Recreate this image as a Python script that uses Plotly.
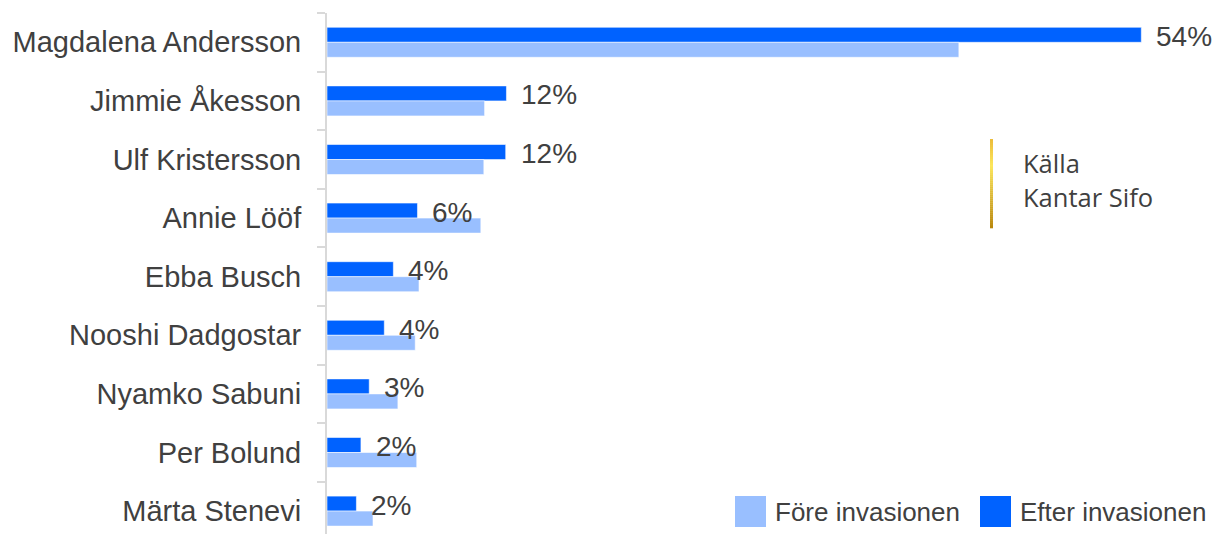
import plotly.graph_objects as go

# Förtroende för partiledarna, före och efter invasionen (procent)
names = [
    "Magdalena Andersson",
    "Jimmie Åkesson",
    "Ulf Kristersson",
    "Annie Lööf",
    "Ebba Busch",
    "Nooshi Dadgostar",
    "Nyamko Sabuni",
    "Per Bolund",
    "Märta Stenevi",
]
efter = [54.0, 11.9, 11.85, 6.0, 4.4, 3.8, 2.8, 2.25, 1.95]
fore = [41.9, 10.45, 10.4, 10.2, 6.1, 5.85, 4.7, 5.95, 3.05]

series_names = ["Före invasionen", "Efter invasionen"]
source_lines = ["Källa", "Kantar Sifo"]

DARK = "#0062FF"
LIGHT = "#99BFFF"
TEXT = "#404040"
SANS = "Liberation Sans, Arial, sans-serif"

W, H = 1225, 534
ML, MR, MT, MB = 327, 0, 13, 0
PW, PH = W - ML - MR, H - MT - MB


def px_x(px):
    return (px - ML) / PW


def px_y(py):
    return (H - MB - py) / PH


fig = go.Figure()
fig.add_trace(go.Bar(
    name=series_names[1], y=names, x=efter, orientation="h",
    marker=dict(color=DARK, line=dict(color="rgba(255,255,255,0.55)", width=1)),
    showlegend=False, hoverinfo="x+y",
))
fig.add_trace(go.Bar(
    name=series_names[0], y=names, x=fore, orientation="h",
    marker=dict(color=LIGHT, line=dict(color="rgba(255,255,255,0.55)", width=1)),
    showlegend=False, hoverinfo="x+y",
))

annotations = []
# value labels next to the "efter" bars
for n, v in zip(names, efter):
    annotations.append(dict(
        x=v, y=n, xref="x", yref="y", text=f"{v:.0f}%", showarrow=False,
        xanchor="left", yanchor="middle", xshift=13, yshift=6,
        font=dict(family=SANS, size=28, color=TEXT),
    ))

shapes = []
# legend drawn by hand: large squares with labels
legend_items = [(735, LIGHT, series_names[0]), (980, DARK, series_names[1])]
for x0, col, label in legend_items:
    shapes.append(dict(
        type="rect", xref="paper", yref="paper",
        x0=px_x(x0), x1=px_x(x0 + 31), y0=px_y(527), y1=px_y(496),
        fillcolor=col, line=dict(width=0),
    ))
    annotations.append(dict(
        x=px_x(x0 + 38), y=px_y(511.5), xref="paper", yref="paper",
        text=label, showarrow=False, xanchor="left", yanchor="middle",
        font=dict(family=SANS, size=26, color=TEXT),
    ))

# source note with a golden gradient bar
stops = [(0.0, (0xEB, 0xBB, 0x3A)), (0.3, (0xFC, 0xE6, 0x5C)), (1.0, (0xB8, 0x86, 0x0B))]


def gold(t):
    for (t0, c0), (t1, c1) in zip(stops[:-1], stops[1:]):
        if t0 <= t <= t1:
            f = (t - t0) / (t1 - t0)
            return "rgb({},{},{})".format(*[round(a + (b - a) * f) for a, b in zip(c0, c1)])
    return "rgb({},{},{})".format(*stops[-1][1])


y_top, y_bot, n_seg = 139, 228, 45
step = (y_bot - y_top) / n_seg
for i in range(n_seg):
    shapes.append(dict(
        type="rect", xref="paper", yref="paper",
        x0=px_x(990), x1=px_x(993),
        y0=px_y(y_top + (i + 1) * step + 0.3), y1=px_y(y_top + i * step),
        fillcolor=gold((i + 0.5) / n_seg), line=dict(width=0),
    ))

for line, yc in zip(source_lines, [163, 197]):
    annotations.append(dict(
        x=px_x(1021), y=px_y(yc), xref="paper", yref="paper",
        text=line, showarrow=False, xanchor="left", yanchor="middle",
        font=dict(family="Open Sans, Noto Sans, sans-serif", size=25.5, color=TEXT),
    ))

fig.update_layout(
    width=W, height=H,
    margin=dict(l=ML, r=MR, t=MT, b=MB, pad=0),
    paper_bgcolor="white", plot_bgcolor="white",
    barmode="group", bargap=0.488, bargroupgap=0,
    showlegend=False,
    xaxis=dict(range=[0, PW / 15.08], visible=False, fixedrange=True),
    yaxis=dict(
        type="category", categoryorder="array", categoryarray=names,
        range=[-0.5 + PH / 58.6, -0.5],
        tickson="boundaries", ticks="outside", ticklen=8, tickwidth=1.5,
        tickcolor="#d9d9d9", showline=True, linecolor="#d9d9d9", linewidth=2,
        showgrid=False, zeroline=False, ticklabelstandoff=18,
        tickfont=dict(family=SANS, size=29, color=TEXT),
    ),
    annotations=annotations,
    shapes=shapes,
)

fig.write_html("out.html")
